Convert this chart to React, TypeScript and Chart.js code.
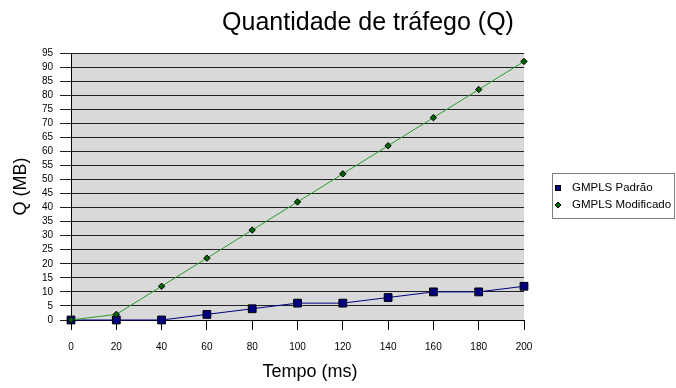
import React, { useEffect, useRef } from "react";
import { Chart, registerables } from "chart.js";

Chart.register(...registerables);

const tempo = [0, 20, 40, 60, 80, 100, 120, 140, 160, 180, 200];
const padrao = [0, 0, 0, 2, 4, 6, 6, 8, 10, 10, 12];
const modificado = [0, 2, 12, 22, 32, 42, 52, 62, 72, 82, 92];
const seriesNames = ["GMPLS Padrão", "GMPLS Modificado"];
const chartTitle = "Quantidade de tráfego (Q)";
const xTitle = "Tempo (ms)";
const yTitle = "Q (MB)";

const FONT = "'Liberation Sans', Arial, Helvetica, sans-serif";

const bgPlugin = {
  id: "plotBg",
  beforeDraw(chart: any) {
    const { ctx, chartArea } = chart;
    ctx.save();
    ctx.fillStyle = "#d9d9d9";
    ctx.fillRect(chartArea.left, chartArea.top, chartArea.right - chartArea.left, chartArea.bottom - chartArea.top);
    ctx.restore();
  },
};

const textPlugin = {
  id: "texts",
  afterDraw(chart: any) {
    const { ctx } = chart;
    ctx.save();
    ctx.fillStyle = "#000";
    ctx.textAlign = "center";
    ctx.textBaseline = "alphabetic";
    ctx.font = `25px ${FONT}`;
    ctx.fillText(chartTitle, 368, 30);
    ctx.font = `18px ${FONT}`;
    ctx.fillText(xTitle, 310, 377);

    // legend
    const lx = 552.5, ly = 173.5, lw = 122, lh = 45;
    ctx.fillStyle = "#fff";
    ctx.fillRect(lx, ly, lw, lh);
    ctx.strokeStyle = "#808080";
    ctx.lineWidth = 1;
    ctx.strokeRect(lx, ly, lw, lh);
    ctx.font = `11.5px ${FONT}`;
    ctx.textAlign = "left";
    ctx.textBaseline = "middle";
    chart.data.datasets.forEach((ds: any, i: number) => {
      const cy = 188 + i * 17;
      if (ds.pointStyle === "rect") {
        ctx.fillStyle = ds.pointBackgroundColor;
        ctx.fillRect(555, cy - 3, 6, 6);
        ctx.strokeStyle = "#000";
        ctx.strokeRect(555.5, cy - 2.5, 5, 5);
      } else {
        ctx.beginPath();
        ctx.moveTo(558, cy - 3);
        ctx.lineTo(561, cy);
        ctx.lineTo(558, cy + 3);
        ctx.lineTo(555, cy);
        ctx.closePath();
        ctx.fillStyle = ds.pointBackgroundColor;
        ctx.fill();
        ctx.strokeStyle = "#000";
        ctx.stroke();
      }
      ctx.fillStyle = "#000";
      ctx.fillText(ds.label, 572, cy);
    });
    ctx.restore();
  },
};

export default function App() {
  const ref = useRef<HTMLCanvasElement | null>(null);
  useEffect(() => {
    if (!ref.current) return;
    const chart = new Chart(ref.current, {
      type: "line",
      data: {
        datasets: [
          {
            label: seriesNames[0],
            data: tempo.map((t, i) => ({ x: t, y: padrao[i] })),
            borderColor: "#000080",
            borderWidth: 1,
            pointStyle: "rect",
            pointRadius: 5.5,
            pointBackgroundColor: "#000080",
            pointBorderColor: "#000",
            pointBorderWidth: 1,
            clip: false,
            order: 2,
          },
          {
            label: seriesNames[1],
            data: tempo.map((t, i) => ({ x: t, y: modificado[i] })),
            borderColor: "#2a9d2a",
            borderWidth: 1,
            pointStyle: "rectRot",
            pointRadius: 3.2,
            pointBackgroundColor: "#006400",
            pointBorderColor: "#000",
            pointBorderWidth: 1,
            clip: false,
            order: 1,
          },
        ],
      },
      options: {
        responsive: false,
        animation: false,
        layout: { padding: { top: 53, right: 152, bottom: 0, left: 0 } },
        plugins: { legend: { display: false }, title: { display: false }, tooltip: { enabled: false } },
        scales: {
          x: {
            type: "linear",
            min: 0,
            max: 200,
            afterFit: (s: any) => { s.height = 68; },
            ticks: { stepSize: 20, color: "#000", font: { family: FONT, size: 10 }, padding: 11, maxRotation: 0, autoSkip: false },
            grid: { drawOnChartArea: false, drawTicks: true, tickLength: 10, color: "#000" },
            border: { display: true, color: "#000", width: 1 },
          },
          y: {
            min: 0,
            max: 95,
            afterFit: (s: any) => { s.width = 71; },
            ticks: { stepSize: 5, color: "#000", font: { family: FONT, size: 10 }, padding: 7, autoSkip: false },
            grid: { color: "#222", lineWidth: 1, tickLength: 11 },
            border: { display: true, color: "#000", width: 1 },
            title: { display: true, text: yTitle, color: "#000", font: { family: FONT, size: 18 }, padding: { top: 10, bottom: 0 } },
          },
        },
      },
      plugins: [bgPlugin, textPlugin],
    });
    return () => chart.destroy();
  }, []);
  return (
    <div style={{ position: "absolute", left: 0, top: 0, width: 676, height: 388 }}>
      <canvas ref={ref} width={676} height={388} />
    </div>
  );
}
